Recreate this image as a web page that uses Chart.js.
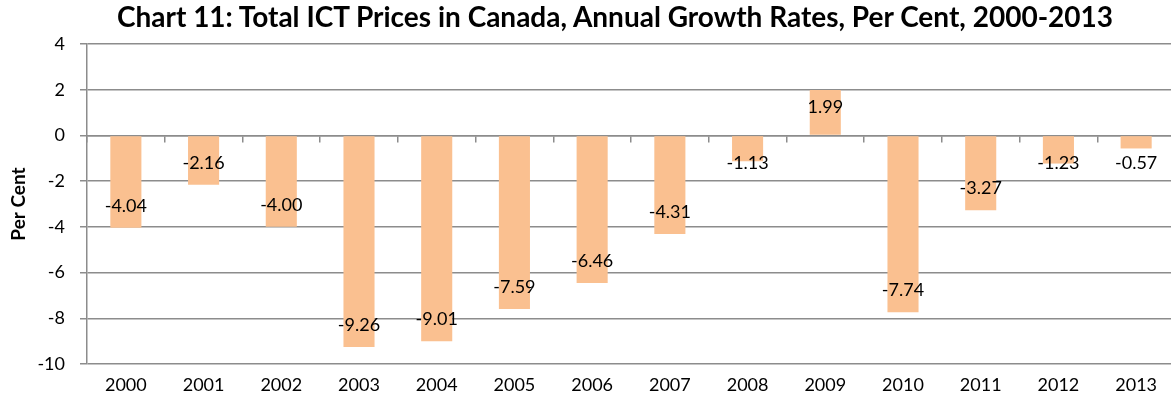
<!DOCTYPE html>
<html><head><meta charset="utf-8">
<script src="https://cdn.jsdelivr.net/npm/chart.js@4.4.1/dist/chart.umd.min.js"></script>
<style>
html,body{margin:0;padding:0;background:#fff;overflow:hidden;width:1171px;height:402px}
#wrap{width:1175px;height:402px;position:relative}
#title{position:absolute;left:0;top:0;width:1230px;text-align:center;font-family:Lato,'Open Sans',sans-serif;font-weight:bold;font-size:28px;line-height:32px;color:#000;white-space:nowrap}
</style></head>
<body><div id="wrap"><canvas id="c"></canvas><div id="title"></div></div>
<script>
const titleText = "Chart 11: Total ICT Prices in Canada, Annual Growth Rates, Per Cent, 2000-2013";
const years = ["2000","2001","2002","2003","2004","2005","2006","2007","2008","2009","2010","2011","2012","2013"];
const growth = [-4.04,-2.16,-4.00,-9.26,-9.01,-7.59,-6.46,-4.31,-1.13,1.99,-7.74,-3.27,-1.23,-0.57];
const yTicks = [-10,-8,-6,-4,-2,0,2,4];
const FONT = "Lato, 'Open Sans', sans-serif";
document.getElementById('title').textContent = titleText;

const labelPlugin = {
  id: 'barLabels',
  afterDatasetsDraw(chart) {
    const ctx = chart.ctx;
    const meta = chart.getDatasetMeta(0);
    ctx.save();
    ctx.font = "18px " + FONT;
    ctx.fillStyle = "#000";
    ctx.textAlign = "center";
    ctx.textBaseline = "middle";
    meta.data.forEach((bar, i) => {
      const v = growth[i];
      const base = bar.base;
      let y;
      if (v < 0) {
        y = bar.y - 22;
        if (y - base < 27) y = base + 27;
      } else {
        y = bar.y + 22;
        if (base - y < 27) y = base - 27;
      }
      ctx.fillText(v.toFixed(2), bar.x, y);
    });
    ctx.restore();
  }
};

new Chart(document.getElementById('c'), {
  type: 'bar',
  data: {
    labels: years,
    datasets: [{
      data: growth,
      backgroundColor: '#FAC090',
      borderWidth: 0,
      barPercentage: 0.4,
      categoryPercentage: 1.0,
      xAxisID: 'x'
    }]
  },
  options: {
    responsive: true,
    maintainAspectRatio: false,
    animation: false,
    layout: { padding: { top: 44, right: 0, left: 0, bottom: 0 } },
    plugins: {
      legend: { display: false },
      tooltip: { enabled: false },
      title: { display: false }
    },
    scales: {
      x: {
        type: 'category',
        position: 'bottom',
        offset: true,
        afterFit(scale) { scale.height = 38; },
        grid: { display: false, drawTicks: false },
        border: { display: false },
        ticks: { color: '#000', font: { family: FONT, size: 18 }, padding: 10, maxRotation: 0 }
      },
      x0: {
        type: 'category',
        labels: years,
        position: { y: 0 },
        offset: true,
        grid: { offset: true, drawOnChartArea: false, drawTicks: true, tickLength: 6, color: '#8c8c8c', lineWidth: 1.5 },
        border: { display: true, color: '#8c8c8c', width: 1.5 },
        ticks: { display: false }
      },
      y: {
        min: -10, max: 4,
        afterFit(scale) { scale.width = 87; },
        afterBuildTicks(scale) { scale.ticks = yTicks.map(v => ({ value: v })); },
        grid: { color: '#8c8c8c', lineWidth: 1.5, tickLength: 7 },
        border: { display: true, color: '#8c8c8c', width: 1.5 },
        ticks: { color: '#000', font: { family: FONT, size: 18 }, padding: 15 },
        title: { display: true, text: 'Per Cent', color: '#000', font: { family: FONT, size: 19, weight: 'bold' }, padding: { top: 7, bottom: 0 } }
      }
    }
  },
  plugins: [labelPlugin]
});
</script></body></html>
